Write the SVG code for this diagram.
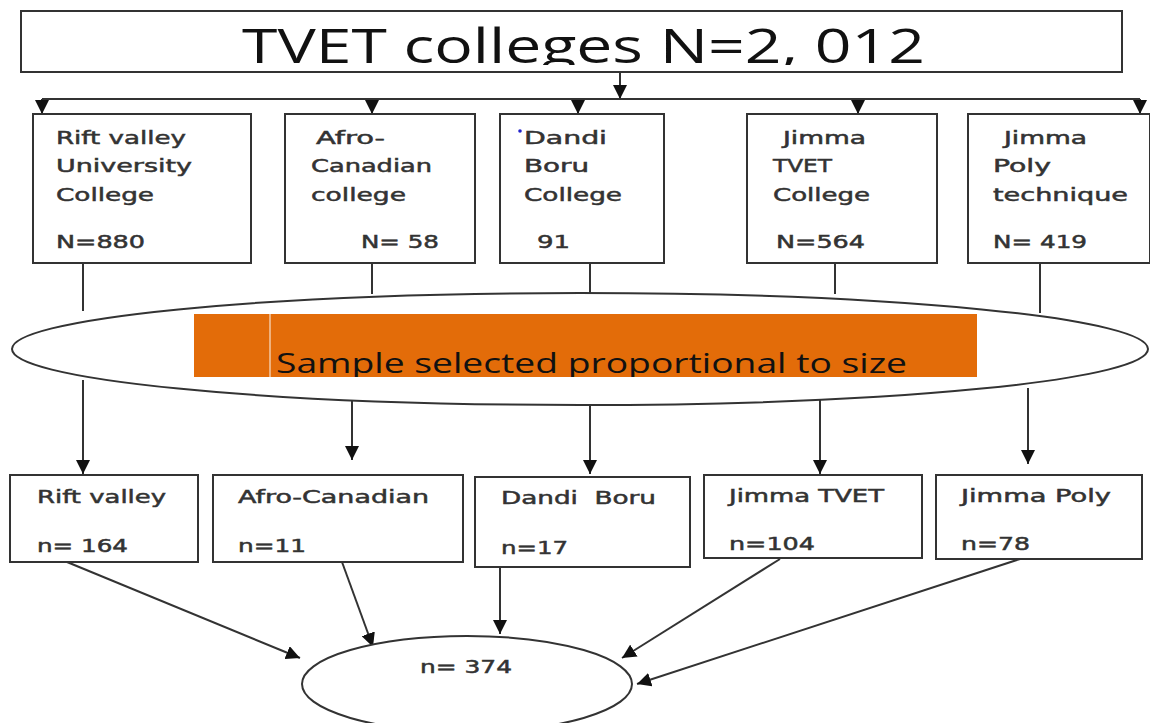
<svg xmlns="http://www.w3.org/2000/svg" width="1150" height="723" viewBox="0 0 1150 723">
<style>
.box{fill:#fff;stroke:#333;stroke-width:2}
.ln{fill:none;stroke:#333;stroke-width:2}
.arr{fill:none;stroke:#333;stroke-width:2;marker-end:url(#ah)}
.t{font-family:"DejaVu Sans",Verdana,sans-serif;font-size:18px;fill:#333;stroke:#333;stroke-width:0.5}
.big{font-family:"Open Sans","Liberation Sans",sans-serif;fill:#111}
</style>
<defs>
<marker id="ah" viewBox="0 0 10 10" refX="10" refY="5" markerWidth="7" markerHeight="7" orient="auto" markerUnits="strokeWidth">
<path d="M0,0 L10,5 L0,10 z" fill="#111"/>
</marker>
<clipPath id="ctitle"><rect x="21" y="11" width="1101" height="54"/></clipPath>
<clipPath id="csample"><rect x="194" y="314" width="783" height="63"/></clipPath>
</defs>
<rect width="1150" height="723" fill="#fff"/>

<g id="connectors">
<line class="arr" x1="620" y1="72" x2="620" y2="99"/>
<line class="ln" x1="42" y1="99" x2="1140" y2="99"/>
<line class="arr" x1="42" y1="99" x2="42" y2="114"/>
<line class="arr" x1="372" y1="99" x2="372" y2="114"/>
<line class="arr" x1="578" y1="99" x2="578" y2="114"/>
<line class="arr" x1="858" y1="99" x2="858" y2="114"/>
<line class="arr" x1="1140" y1="99" x2="1140" y2="114"/>
<line class="ln" x1="83" y1="263" x2="83" y2="311"/>
<line class="ln" x1="372" y1="263" x2="372" y2="294"/>
<line class="ln" x1="590" y1="263" x2="590" y2="294"/>
<line class="ln" x1="835" y1="263" x2="835" y2="294"/>
<line class="ln" x1="1040" y1="263" x2="1040" y2="313"/>
<line class="arr" x1="83" y1="380" x2="83" y2="474"/>
<line class="arr" x1="352" y1="400" x2="352" y2="460"/>
<line class="arr" x1="590" y1="405" x2="590" y2="474"/>
<line class="arr" x1="820" y1="398" x2="820" y2="474"/>
<line class="arr" x1="1028" y1="388" x2="1028" y2="464"/>
<line class="arr" x1="67" y1="562" x2="300" y2="658"/>
<line class="arr" x1="342" y1="562" x2="373" y2="647"/>
<line class="arr" x1="500" y1="567" x2="500" y2="634"/>
<line class="arr" x1="780" y1="559" x2="622" y2="658"/>
<line class="arr" x1="1020" y1="559" x2="637" y2="684"/>
</g>

<g id="top">
<rect class="box" x="21" y="11" width="1101" height="61"/>
<text class="big" x="242" y="63" font-size="47" textLength="683" lengthAdjust="spacingAndGlyphs" clip-path="url(#ctitle)">TVET colleges N=2, 012</text>
</g>

<g id="rift">
<rect class="box" x="33" y="114" width="218" height="149"/>
<text class="t" x="56" y="144" textLength="130" lengthAdjust="spacingAndGlyphs">Rift valley</text>
<text class="t" x="56" y="172" textLength="136" lengthAdjust="spacingAndGlyphs">University</text>
<text class="t" x="56" y="201" textLength="98" lengthAdjust="spacingAndGlyphs">College</text>
<text class="t" x="56" y="248" textLength="89" lengthAdjust="spacingAndGlyphs">N=880</text>
</g>

<g id="afro">
<rect class="box" x="285" y="114" width="190" height="149"/>
<text class="t" x="316" y="144" textLength="69" lengthAdjust="spacingAndGlyphs">Afro-</text>
<text class="t" x="311" y="172" textLength="121" lengthAdjust="spacingAndGlyphs">Canadian</text>
<text class="t" x="311" y="201" textLength="95" lengthAdjust="spacingAndGlyphs">college</text>
<text class="t" x="361" y="248" textLength="78" lengthAdjust="spacingAndGlyphs">N= 58</text>
</g>

<g id="dandi">
<rect class="box" x="500" y="114" width="164" height="149"/>
<circle cx="520" cy="131" r="1.8" fill="#22c"/>
<text class="t" x="524" y="144" textLength="83" lengthAdjust="spacingAndGlyphs">Dandi</text>
<text class="t" x="524" y="172" textLength="65" lengthAdjust="spacingAndGlyphs">Boru</text>
<text class="t" x="524" y="201" textLength="98" lengthAdjust="spacingAndGlyphs">College</text>
<text class="t" x="537" y="248" textLength="33" lengthAdjust="spacingAndGlyphs">91</text>
</g>

<g id="jimmatvet">
<rect class="box" x="747" y="114" width="190" height="149"/>
<text class="t" x="783" y="144" textLength="83" lengthAdjust="spacingAndGlyphs">Jimma</text>
<text class="t" x="773" y="172" textLength="59" lengthAdjust="spacingAndGlyphs">TVET</text>
<text class="t" x="773" y="201" textLength="97" lengthAdjust="spacingAndGlyphs">College</text>
<text class="t" x="776" y="248" textLength="89" lengthAdjust="spacingAndGlyphs">N=564</text>
</g>

<g id="jimmapoly">
<rect class="box" x="968" y="114" width="182" height="149"/>
<text class="t" x="1004" y="144" textLength="83" lengthAdjust="spacingAndGlyphs">Jimma</text>
<text class="t" x="993" y="172" textLength="58" lengthAdjust="spacingAndGlyphs">Poly</text>
<text class="t" x="993" y="201" textLength="135" lengthAdjust="spacingAndGlyphs">technique</text>
<text class="t" x="993" y="248" textLength="94" lengthAdjust="spacingAndGlyphs">N= 419</text>
</g>

<g id="sample">
<ellipse cx="580" cy="349" rx="568" ry="56" fill="#fff" stroke="#333" stroke-width="2"/>
<rect x="194" y="314" width="783" height="63" fill="#e36c09"/>
<line x1="270" y1="314" x2="270" y2="377" stroke="#f3c9a4" stroke-width="1.5"/>
<text class="big" x="276" y="373" font-size="28" fill="#1a1a1a" textLength="631" lengthAdjust="spacingAndGlyphs" clip-path="url(#csample)">Sample selected proportional to size</text>
</g>

<g id="s-rift">
<rect class="box" x="10" y="475" width="188" height="87"/>
<text class="t" x="37" y="503" textLength="129" lengthAdjust="spacingAndGlyphs">Rift valley</text>
<text class="t" x="37" y="552" textLength="91" lengthAdjust="spacingAndGlyphs">n= 164</text>
</g>

<g id="s-afro">
<rect class="box" x="213" y="475" width="250" height="87"/>
<text class="t" x="238" y="503" textLength="191" lengthAdjust="spacingAndGlyphs">Afro-Canadian</text>
<text class="t" x="238" y="552" textLength="68" lengthAdjust="spacingAndGlyphs">n=11</text>
</g>

<g id="s-dandi">
<rect class="box" x="475" y="477" width="215" height="90"/>
<text class="t" x="501" y="504" textLength="155" lengthAdjust="spacingAndGlyphs" xml:space="preserve">Dandi  Boru</text>
<text class="t" x="501" y="554" textLength="67" lengthAdjust="spacingAndGlyphs">n=17</text>
</g>

<g id="s-jimmatvet">
<rect class="box" x="704" y="475" width="218" height="83"/>
<text class="t" x="729" y="502" textLength="155" lengthAdjust="spacingAndGlyphs">Jimma TVET</text>
<text class="t" x="729" y="550" textLength="86" lengthAdjust="spacingAndGlyphs">n=104</text>
</g>

<g id="s-jimmapoly">
<rect class="box" x="936" y="475" width="206" height="84"/>
<text class="t" x="961" y="502" textLength="150" lengthAdjust="spacingAndGlyphs">Jimma Poly</text>
<text class="t" x="961" y="550" textLength="69" lengthAdjust="spacingAndGlyphs">n=78</text>
</g>

<g id="total">
<ellipse cx="467" cy="684" rx="165" ry="48" fill="#fff" stroke="#333" stroke-width="2"/>
<text class="t" x="420" y="673" textLength="92" lengthAdjust="spacingAndGlyphs">n= 374</text>
</g>
</svg>
